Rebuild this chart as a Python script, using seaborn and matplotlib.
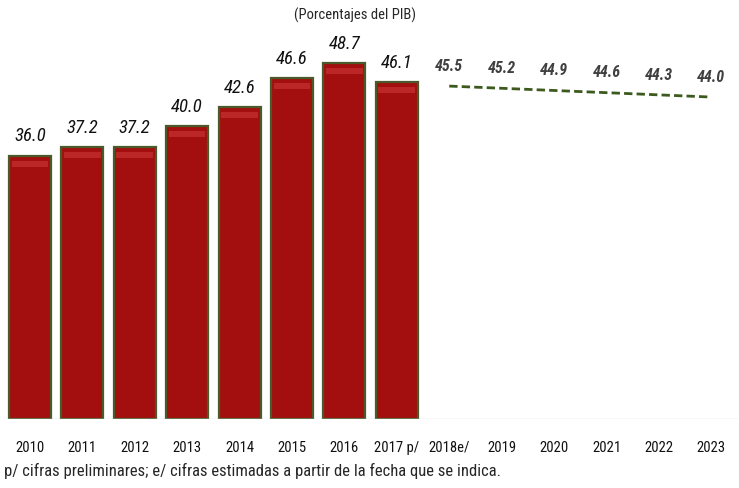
import numpy as np
import pandas as pd
import seaborn as sns
import matplotlib.pyplot as plt

# categories and values
years = ["2010", "2011", "2012", "2013", "2014", "2015", "2016", "2017 p/",
         "2018e/", "2019", "2020", "2021", "2022", "2023"]
observed = [36.0, 37.2, 37.2, 40.0, 42.6, 46.6, 48.7, 46.1]
projected = [45.5, 45.2, 44.9, 44.6, 44.3, 44.0]

sns.set_theme(style="white")
plt.rcParams["font.family"] = ["Roboto Condensed", "DejaVu Sans"]

bar_vals = observed + [np.nan] * len(projected)
df = pd.DataFrame({"year": years, "value": bar_vals})

fig = plt.figure(figsize=(7.39, 4.89), dpi=100)
ax = fig.add_axes([0.005, 0.141, 0.993, 0.859])

sns.barplot(data=df, x="year", y="value", color="#a30f0f", width=0.8,
            edgecolor="#4b5a2a", linewidth=1.6, saturation=1, ax=ax)

# a lighter strip near the top of each bar, like the bevel in the original
pos = np.arange(len(observed))
ax.bar(pos, [0.8] * len(observed), bottom=[v - 1.5 for v in observed],
       width=0.7, color="#bb2626", linewidth=0, zorder=3)

for i, v in enumerate(observed):
    ax.annotate(f"{v:.1f}", (i, v), xytext=(0, 14.5), textcoords="offset points",
                ha="center", va="center", fontsize=13.5, style="italic", color="#111111")

proj_x = np.arange(len(observed), len(years))
sns.lineplot(x=proj_x, y=projected, color="#3d5a1e", linestyle=(0, (3, 1.5)),
             linewidth=2, ax=ax)
for x, v in zip(proj_x, projected):
    ax.annotate(f"{v:.1f}", (x, v), xytext=(0, 15), textcoords="offset points",
                ha="center", va="center", fontsize=11.5, style="italic",
                fontweight="bold", color="#404040")

ax.axhline(0, color="#d9d9d9", linewidth=1)
ax.set_ylim(0, 57.4)
ax.set_xlim(-0.5, len(years) - 0.5)
ax.set_xlabel("")
ax.set_ylabel("")
ax.set_yticks([])
ax.tick_params(axis="x", length=0, pad=15, labelsize=10.5, colors="#111111")
for s in ax.spines.values():
    s.set_visible(False)

fig.text(0.481, 0.968, "(Porcentajes del PIB)", ha="center", va="center", fontsize=10.5)
fig.text(0.006, 0.037, "p/ cifras preliminares; e/ cifras estimadas a partir de la fecha que se indica.",
         ha="left", va="center", fontsize=12)

plt.savefig("out.png", dpi=100)
